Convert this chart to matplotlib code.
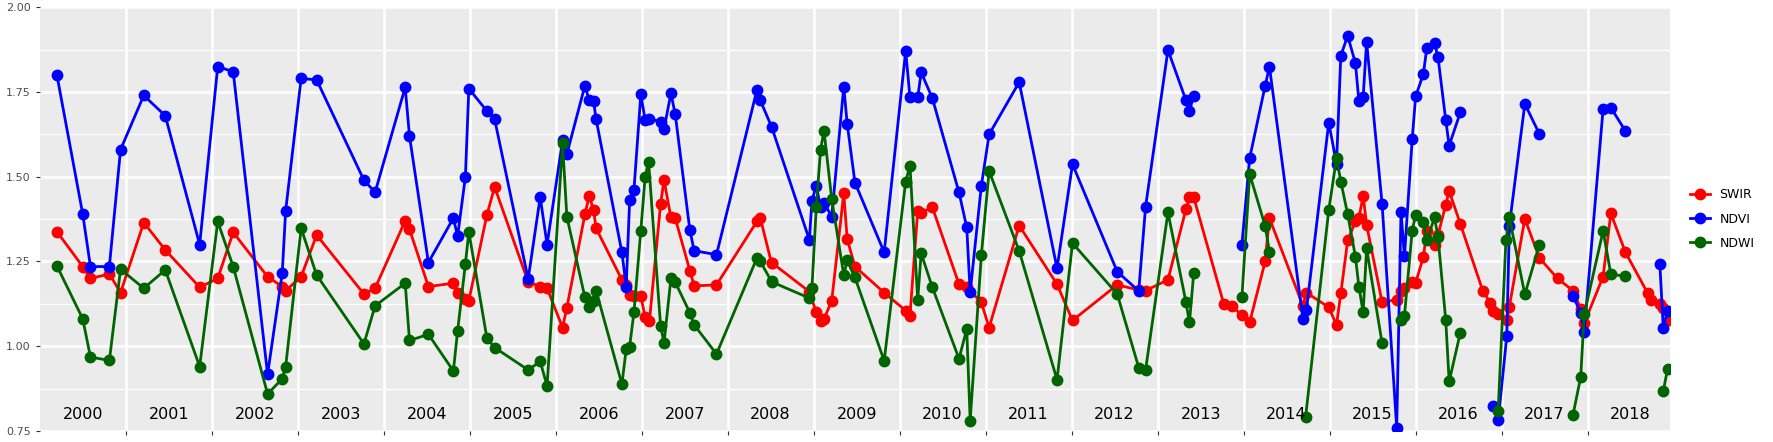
import numpy as np
import matplotlib
matplotlib.use("Agg")
import matplotlib.pyplot as plt
from matplotlib.lines import Line2D

nan = np.nan

# decimal years, NaN = break in the line
swir_t = [2000.20, 2000.50, 2000.59, 2000.81, 2000.94, 2001.21, 2001.46, 2001.86, 2002.07, 2002.25,
          2002.65, 2002.82, 2002.86, 2003.04, 2003.22, 2003.77, 2003.90, 2004.25, 2004.30, 2004.52,
          2004.81, 2004.86, 2004.95, 2004.99, 2005.20, 2005.29, 2005.68, 2005.82, 2005.90, 2006.08,
          2006.13, 2006.34, 2006.39, 2006.44, 2006.47, 2006.77, 2006.82, 2006.86, 2006.91, 2006.99,
          2007.04, 2007.09, 2007.22, 2007.26, 2007.34, 2007.39, 2007.56, 2007.61, 2007.87, 2008.34,
          2008.38, 2008.51, 2008.52, 2008.95, 2009.03, 2009.08, 2009.12, 2009.21, 2009.35, 2009.39,
          2009.48, 2009.82, 2010.07, 2010.12, 2010.21, 2010.25, 2010.38, 2010.69, 2010.78, 2010.95,
          2011.04, 2011.39, 2011.83, 2012.01, 2012.53, 2012.78, 2012.86, 2013.12, 2013.33, 2013.37,
          2013.42, 2013.77, 2013.86, 2013.98, 2014.07, 2014.25, 2014.30, 2014.69, 2014.73, 2014.99,
          2015.08, 2015.13, 2015.21, 2015.30, 2015.34, 2015.39, 2015.43, 2015.61, 2015.78, 2015.83,
          2015.87, 2015.96, 2016.00, 2016.09, 2016.13, 2016.22, 2016.26, 2016.35, 2016.39, 2016.52,
          2016.78, 2016.87, 2016.90, 2016.96, 2017.06, 2017.09, 2017.27, 2017.44, 2017.65, 2017.83,
          2017.92, 2017.96, 2018.18, 2018.27, 2018.44, 2018.70, 2018.74, 2018.84, 2018.88, 2018.95]
swir_v = [1.338, 1.235, 1.200, 1.213, 1.158, 1.365, 1.284, 1.174, 1.200, 1.336,
          1.205, 1.176, 1.164, 1.205, 1.328, 1.154, 1.171, 1.370, 1.345, 1.176,
          1.186, 1.156, 1.139, 1.134, 1.387, 1.470, 1.190, 1.176, 1.171, 1.055,
          1.114, 1.389, 1.444, 1.402, 1.348, 1.196, 1.181, 1.151, 1.148, 1.148,
          1.086, 1.073, 1.420, 1.490, 1.380, 1.378, 1.223, 1.178, 1.181, 1.368,
          1.378, 1.245, 1.245, 1.161, 1.100, 1.075, 1.080, 1.134, 1.451, 1.316,
          1.235, 1.158, 1.105, 1.090, 1.400, 1.394, 1.410, 1.183, 1.174, 1.129,
          1.055, 1.356, 1.183, 1.076, 1.181, 1.166, 1.164, 1.196, 1.405, 1.440,
          1.439, 1.124, 1.119, 1.092, 1.070, 1.250, 1.378, 1.119, 1.158, 1.115,
          1.063, 1.156, 1.312, 1.368, 1.378, 1.444, 1.358, 1.130, 1.137, 1.164,
          1.171, 1.190, 1.187, 1.263, 1.340, 1.300, 1.328, 1.417, 1.458, 1.361,
          1.164, 1.127, 1.105, 1.095, 1.076, 1.117, 1.376, 1.260, 1.200, 1.164,
          1.110, 1.068, 1.205, 1.392, 1.277, 1.156, 1.135, 1.125, 1.112, 1.078]

ndvi_t = [2000.20, 2000.50, 2000.59, 2000.81, 2000.94, 2001.21, 2001.46, 2001.86, 2002.07, 2002.25,
          2002.65, 2002.82, 2002.86, 2003.04, 2003.22, 2003.77, 2003.90, 2004.25, 2004.30, 2004.52,
          2004.81, 2004.86, 2004.95, 2004.99, 2005.20, 2005.29, 2005.68, 2005.82, 2005.90, 2006.08,
          2006.13, 2006.34, 2006.39, 2006.44, 2006.47, 2006.77, 2006.82, 2006.86, 2006.91, 2006.99,
          2007.04, 2007.09, 2007.22, 2007.26, 2007.34, 2007.39, 2007.56, 2007.61, 2007.87, 2008.34,
          2008.38, 2008.51, 2008.95, 2008.98, 2009.03, 2009.08, 2009.12, 2009.21, 2009.35, 2009.39,
          2009.48, 2009.82, 2010.07, 2010.12, 2010.21, 2010.25, 2010.38, 2010.69, 2010.78, 2010.82,
          2010.95, 2011.04, 2011.39, 2011.83, 2012.01, 2012.53, 2012.78, 2012.86, 2013.12, 2013.33,
          2013.37, 2013.42, nan, 2013.98, 2014.07, 2014.25, 2014.30, 2014.69, 2014.73, 2014.99,
          2015.08, 2015.13, 2015.21, 2015.30, 2015.34, 2015.39, 2015.43, 2015.61, 2015.78, 2015.83,
          2015.87, 2015.96, 2016.00, 2016.09, 2016.13, 2016.22, 2016.26, 2016.35, 2016.39, 2016.52,
          nan, 2016.90, 2016.96, 2017.06, 2017.09, 2017.27, 2017.44, nan, 2017.83, 2017.92,
          2017.96, 2018.18, 2018.27, 2018.44, nan, 2018.84, 2018.88, 2018.93]
ndvi_v = [1.800, 1.390, 1.235, 1.235, 1.580, 1.740, 1.680, 1.300, 1.825, 1.810,
          0.917, 1.215, 1.400, 1.790, 1.786, 1.490, 1.454, 1.764, 1.620, 1.247,
          1.378, 1.325, 1.500, 1.760, 1.694, 1.670, 1.198, 1.440, 1.300, 1.607,
          1.567, 1.769, 1.725, 1.724, 1.670, 1.277, 1.176, 1.430, 1.460, 1.743,
          1.668, 1.670, 1.663, 1.641, 1.746, 1.685, 1.343, 1.282, 1.270, 1.756,
          1.725, 1.648, 1.314, 1.429, 1.474, 1.410, 1.424, 1.382, 1.766, 1.656,
          1.483, 1.277, 1.871, 1.734, 1.734, 1.808, 1.732, 1.454, 1.351, 1.159,
          1.473, 1.625, 1.779, 1.230, 1.537, 1.220, 1.163, 1.412, 1.874, 1.725,
          1.695, 1.738, nan, 1.300, 1.555, 1.768, 1.825, 1.080, 1.107, 1.660,
          1.538, 1.857, 1.916, 1.835, 1.724, 1.736, 1.898, 1.420, 0.760, 1.397,
          1.265, 1.610, 1.737, 1.803, 1.880, 1.894, 1.853, 1.668, 1.592, 1.690,
          nan, 0.825, 0.781, 1.030, 1.356, 1.715, 1.626, nan, 1.148, 1.099,
          1.041, 1.700, 1.704, 1.635, nan, 1.243, 1.053, 1.105]

ndwi_t = [2000.20, 2000.50, 2000.59, 2000.81, 2000.94, 2001.21, 2001.46, 2001.86, 2002.07, 2002.25,
          2002.65, 2002.82, 2002.86, 2003.04, 2003.22, 2003.77, 2003.90, 2004.25, 2004.30, 2004.52,
          2004.81, 2004.86, 2004.95, 2004.99, 2005.20, 2005.29, 2005.68, 2005.82, 2005.90, 2006.08,
          2006.13, 2006.34, 2006.39, 2006.44, 2006.47, 2006.77, 2006.82, 2006.86, 2006.91, 2006.99,
          2007.04, 2007.08, 2007.22, 2007.26, 2007.34, 2007.39, 2007.56, 2007.61, 2007.87, 2008.34,
          2008.38, 2008.51, 2008.52, 2008.95, 2008.98, 2009.03, 2009.08, 2009.12, 2009.21, 2009.35,
          2009.39, 2009.48, 2009.82, 2010.07, 2010.12, 2010.21, 2010.25, 2010.38, 2010.69, 2010.78,
          2010.82, 2010.95, 2011.04, 2011.39, 2011.83, 2012.01, 2012.53, 2012.78, 2012.86, 2013.12,
          2013.33, 2013.37, 2013.42, nan, 2013.98, 2014.07, 2014.25, 2014.30, nan, 2014.72, 2014.99,
          2015.08, 2015.13, 2015.21, 2015.30, 2015.34, 2015.39, 2015.43, 2015.61, nan, 2015.83, 2015.87,
          2015.96, 2016.00, 2016.09, 2016.13, 2016.22, 2016.26, 2016.35, 2016.39, 2016.52, nan,
          2016.96, 2017.05, 2017.09, 2017.27, 2017.44, nan, 2017.83, 2017.92, 2017.96, 2018.18,
          2018.27, 2018.44, nan, 2018.88, 2018.93]
ndwi_v = [1.237, 1.081, 0.968, 0.958, 1.227, 1.171, 1.225, 0.940, 1.368, 1.235,
          0.859, 0.904, 0.940, 1.348, 1.210, 1.007, 1.119, 1.186, 1.017, 1.035,
          0.927, 1.046, 1.243, 1.338, 1.024, 0.996, 0.930, 0.955, 0.883, 1.599,
          1.382, 1.144, 1.117, 1.132, 1.164, 0.888, 0.991, 0.999, 1.100, 1.341,
          1.499, 1.545, 1.060, 1.009, 1.200, 1.189, 1.099, 1.063, 0.977, 1.260,
          1.250, 1.191, 1.189, 1.142, 1.171, 1.410, 1.579, 1.636, 1.434, 1.210,
          1.253, 1.203, 0.957, 1.486, 1.532, 1.137, 1.274, 1.174, 0.963, 1.050,
          0.780, 1.269, 1.517, 1.281, 0.901, 1.304, 1.154, 0.937, 0.930, 1.395,
          1.129, 1.070, 1.217, nan, 1.144, 1.508, 1.355, 1.279, nan, 0.790, 1.402,
          1.555, 1.486, 1.389, 1.264, 1.176, 1.100, 1.289, 1.009, nan, 1.076, 1.090,
          1.341, 1.387, 1.366, 1.312, 1.380, 1.322, 1.078, 0.896, 1.040, nan,
          0.810, 1.312, 1.380, 1.153, 1.300, nan, 0.797, 0.910, 1.094, 1.340,
          1.213, 1.206, nan, 0.868, 0.933]

years = list(range(2000, 2019))
series = [("SWIR", swir_t, swir_v, "#FF0000"),
          ("NDVI", ndvi_t, ndvi_v, "#0000FF"),
          ("NDWI", ndwi_t, ndwi_v, "#006400")]

fig = plt.figure(figsize=(17.73, 4.42), dpi=100)
ax = fig.add_axes([0.0224, 0.025, 0.9196, 0.9585])
ax.set_facecolor("#EBEBEB")
for s in ax.spines.values():
    s.set_visible(False)

for name, t, v, c in series:
    ax.plot(t, v, "-o", color=c, lw=2, ms=7.5, label=name, zorder=3)

for y in years:
    ax.text(y + 0.5, 0.80, str(y), ha="center", va="center", fontsize=11.5, color="black", zorder=4)

ax.set_xlim(2000, 2018.96)
ax.set_ylim(0.75, 2.0)
ax.set_xticks(years[1:])
ax.set_xticklabels([])
ax.set_yticks([0.75, 1.0, 1.25, 1.5, 1.75, 2.0])
ax.set_yticklabels(["0.75", "1.00", "1.25", "1.50", "1.75", "2.00"])
ax.set_yticks(np.arange(0.875, 2.0, 0.25), minor=True)
ax.tick_params(axis="both", which="major", color="#333333", length=3, labelsize=8, labelcolor="#4D4D4D")
ax.tick_params(axis="y", which="minor", length=0)
ax.grid(which="major", color="white", lw=1.8)
ax.grid(which="minor", axis="y", color="white", lw=0.9)
ax.set_axisbelow(True)

handles = [Line2D([], [], color=c, lw=2, marker="o", ms=7.5) for _, _, _, c in series]
leg = ax.legend(handles, [s[0] for s in series], loc="center left", bbox_to_anchor=(1.005, 0.5),
                frameon=False, fontsize=9, handlelength=1.6, labelspacing=0.9)

fig.savefig("out.png", dpi=100)
